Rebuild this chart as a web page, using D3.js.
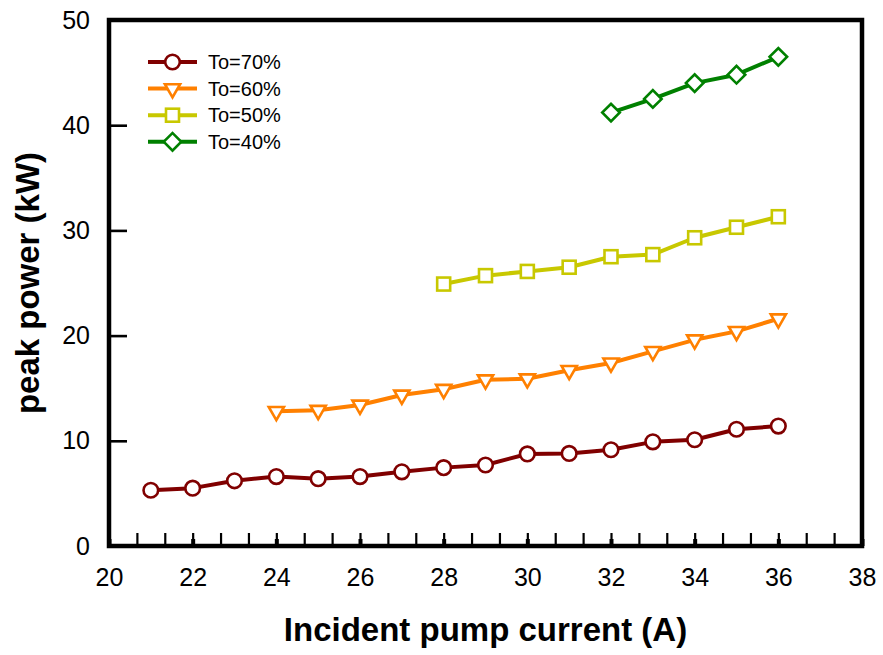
<!DOCTYPE html>
<html>
<head>
<meta charset="utf-8">
<script src="https://cdn.jsdelivr.net/npm/d3@7"></script>
<style>
  html, body { margin: 0; padding: 0; background: #fff; }
  svg { display: block; font-family: "Liberation Sans", Arial, sans-serif; }
</style>
</head>
<body>
<svg id="chart" width="883" height="655"></svg>
<script>
// Peak power vs. incident pump current for four output-coupler transmissions
const currents70 = [21, 22, 23, 24, 25, 26, 27, 28, 29, 30, 31, 32, 33, 34, 35, 36];
const power70    = [5.3, 5.5, 6.2, 6.6, 6.4, 6.6, 7.05, 7.45, 7.7, 8.75, 8.8, 9.15, 9.9, 10.1, 11.1, 11.4];

const currents60 = [24, 25, 26, 27, 28, 29, 30, 31, 32, 33, 34, 35, 36];
const power60    = [12.8, 12.9, 13.4, 14.35, 14.9, 15.8, 15.9, 16.7, 17.4, 18.5, 19.6, 20.4, 21.6];

const currents50 = [28, 29, 30, 31, 32, 33, 34, 35, 36];
const power50    = [24.9, 25.7, 26.1, 26.5, 27.5, 27.7, 29.3, 30.3, 31.3];

const currents40 = [32, 33, 34, 35, 36];
const power40    = [41.2, 42.5, 44.0, 44.8, 46.5];

const seriesNames = ["To=70%", "To=60%", "To=50%", "To=40%"];
const xTickValues = [20, 22, 24, 26, 28, 30, 32, 34, 36, 38];
const yTickValues = [0, 10, 20, 30, 40, 50];

const xTitle = "Incident pump current (A)";
const yTitle = "peak power (kW)";

const series = [
  { name: seriesNames[0], xs: currents70, ys: power70, color: "#800000", marker: "circle" },
  { name: seriesNames[1], xs: currents60, ys: power60, color: "#FF8000", marker: "triangle" },
  { name: seriesNames[2], xs: currents50, ys: power50, color: "#C8C800", marker: "square" },
  { name: seriesNames[3], xs: currents40, ys: power40, color: "#008000", marker: "diamond" }
];

const svg = d3.select("#chart");
const plotLeft = 109, plotRight = 862, plotTop = 20, plotBottom = 546;

const x = d3.scaleLinear().domain([20, 38]).range([plotLeft, plotRight]);
const y = d3.scaleLinear().domain([0, 50]).range([plotBottom, plotTop]);

// Marker shapes
function drawMarker(g, type, color) {
  let p;
  if (type === "circle") {
    p = g.append("circle").attr("r", 7.3);
  } else if (type === "triangle") {
    p = g.append("path").attr("d", d3.symbol(d3.symbolTriangle, 100)()).attr("transform", "rotate(180)");
  } else if (type === "square") {
    p = g.append("rect").attr("x", -6.5).attr("y", -6.5).attr("width", 13).attr("height", 13);
  } else {
    p = g.append("rect").attr("x", -6.2).attr("y", -6.2).attr("width", 12.4).attr("height", 12.4).attr("transform", "rotate(45)");
  }
  p.attr("fill", "#fff").attr("stroke", color).attr("stroke-width", 2.6);
}

// Minor ticks along the bottom axis (three per major interval), pointing inward
const minorTicks = d3.range(0, 28).map(i => 20 + i * 2 / 3);
svg.append("g")
  .attr("transform", `translate(0,${plotBottom})`)
  .call(d3.axisBottom(x).tickValues(minorTicks).tickSize(-13).tickFormat(""))
  .call(g => g.select(".domain").remove())
  .call(g => g.selectAll("line").attr("stroke", "#000").attr("stroke-width", 2.2));

// Major ticks and labels on the bottom axis
svg.append("g")
  .attr("transform", `translate(0,${plotBottom})`)
  .call(d3.axisBottom(x).tickValues(xTickValues).tickSize(-7).tickPadding(22).tickFormat(d3.format("d")))
  .call(g => g.select(".domain").remove())
  .call(g => g.selectAll("line").attr("stroke", "#000").attr("stroke-width", 4))
  .call(g => g.selectAll("text").attr("font-size", 25).attr("fill", "#000")
    .attr("font-family", "'Liberation Sans', Arial, sans-serif"));

// Left axis
svg.append("g")
  .attr("transform", `translate(${plotLeft},0)`)
  .call(d3.axisLeft(y).tickValues(yTickValues).tickSize(-18).tickPadding(19).tickFormat(d3.format("d")))
  .call(g => g.select(".domain").remove())
  .call(g => g.selectAll("line").attr("stroke", "#000").attr("stroke-width", 2.6))
  .call(g => g.selectAll("text").attr("font-size", 25).attr("fill", "#000")
    .attr("font-family", "'Liberation Sans', Arial, sans-serif"));

// Frame around the plot
svg.append("rect")
  .attr("x", plotLeft).attr("y", plotTop)
  .attr("width", plotRight - plotLeft).attr("height", plotBottom - plotTop)
  .attr("fill", "none").attr("stroke", "#000").attr("stroke-width", 4.5);

// Data lines and markers
const line = d3.line().x(d => x(d[0])).y(d => y(d[1]));
series.forEach(s => {
  const pts = s.xs.map((v, i) => [v, s.ys[i]]);
  svg.append("path")
    .attr("d", line(pts))
    .attr("fill", "none")
    .attr("stroke", s.color)
    .attr("stroke-width", 4)
    .attr("stroke-linejoin", "round");
  pts.forEach(p => {
    const g = svg.append("g").attr("transform", `translate(${x(p[0])},${y(p[1])})`);
    drawMarker(g, s.marker, s.color);
  });
});

// Legend
const legend = svg.append("g").attr("transform", "translate(148,62)");
series.forEach((s, i) => {
  const row = legend.append("g").attr("transform", `translate(0,${i * 26.6})`);
  row.append("line").attr("x1", 0).attr("x2", 49).attr("y1", 0).attr("y2", 0)
    .attr("stroke", s.color).attr("stroke-width", 4);
  const m = row.append("g").attr("transform", "translate(24.5,0)");
  drawMarker(m, s.marker, s.color);
  row.append("text").attr("x", 60).attr("y", 0).attr("dy", "0.36em")
    .attr("font-size", 20).attr("fill", "#000").text(s.name);
});

// Axis titles
svg.append("text")
  .attr("x", (plotLeft + plotRight) / 2).attr("y", 641)
  .attr("text-anchor", "middle")
  .attr("font-size", 33).attr("font-weight", "bold").attr("fill", "#000")
  .text(xTitle);

svg.append("text")
  .attr("transform", `translate(38.5,${(plotTop + plotBottom) / 2}) rotate(-90)`)
  .attr("text-anchor", "middle")
  .attr("font-size", 33).attr("font-weight", "bold").attr("fill", "#000")
  .text(yTitle);
</script>
</body>
</html>
